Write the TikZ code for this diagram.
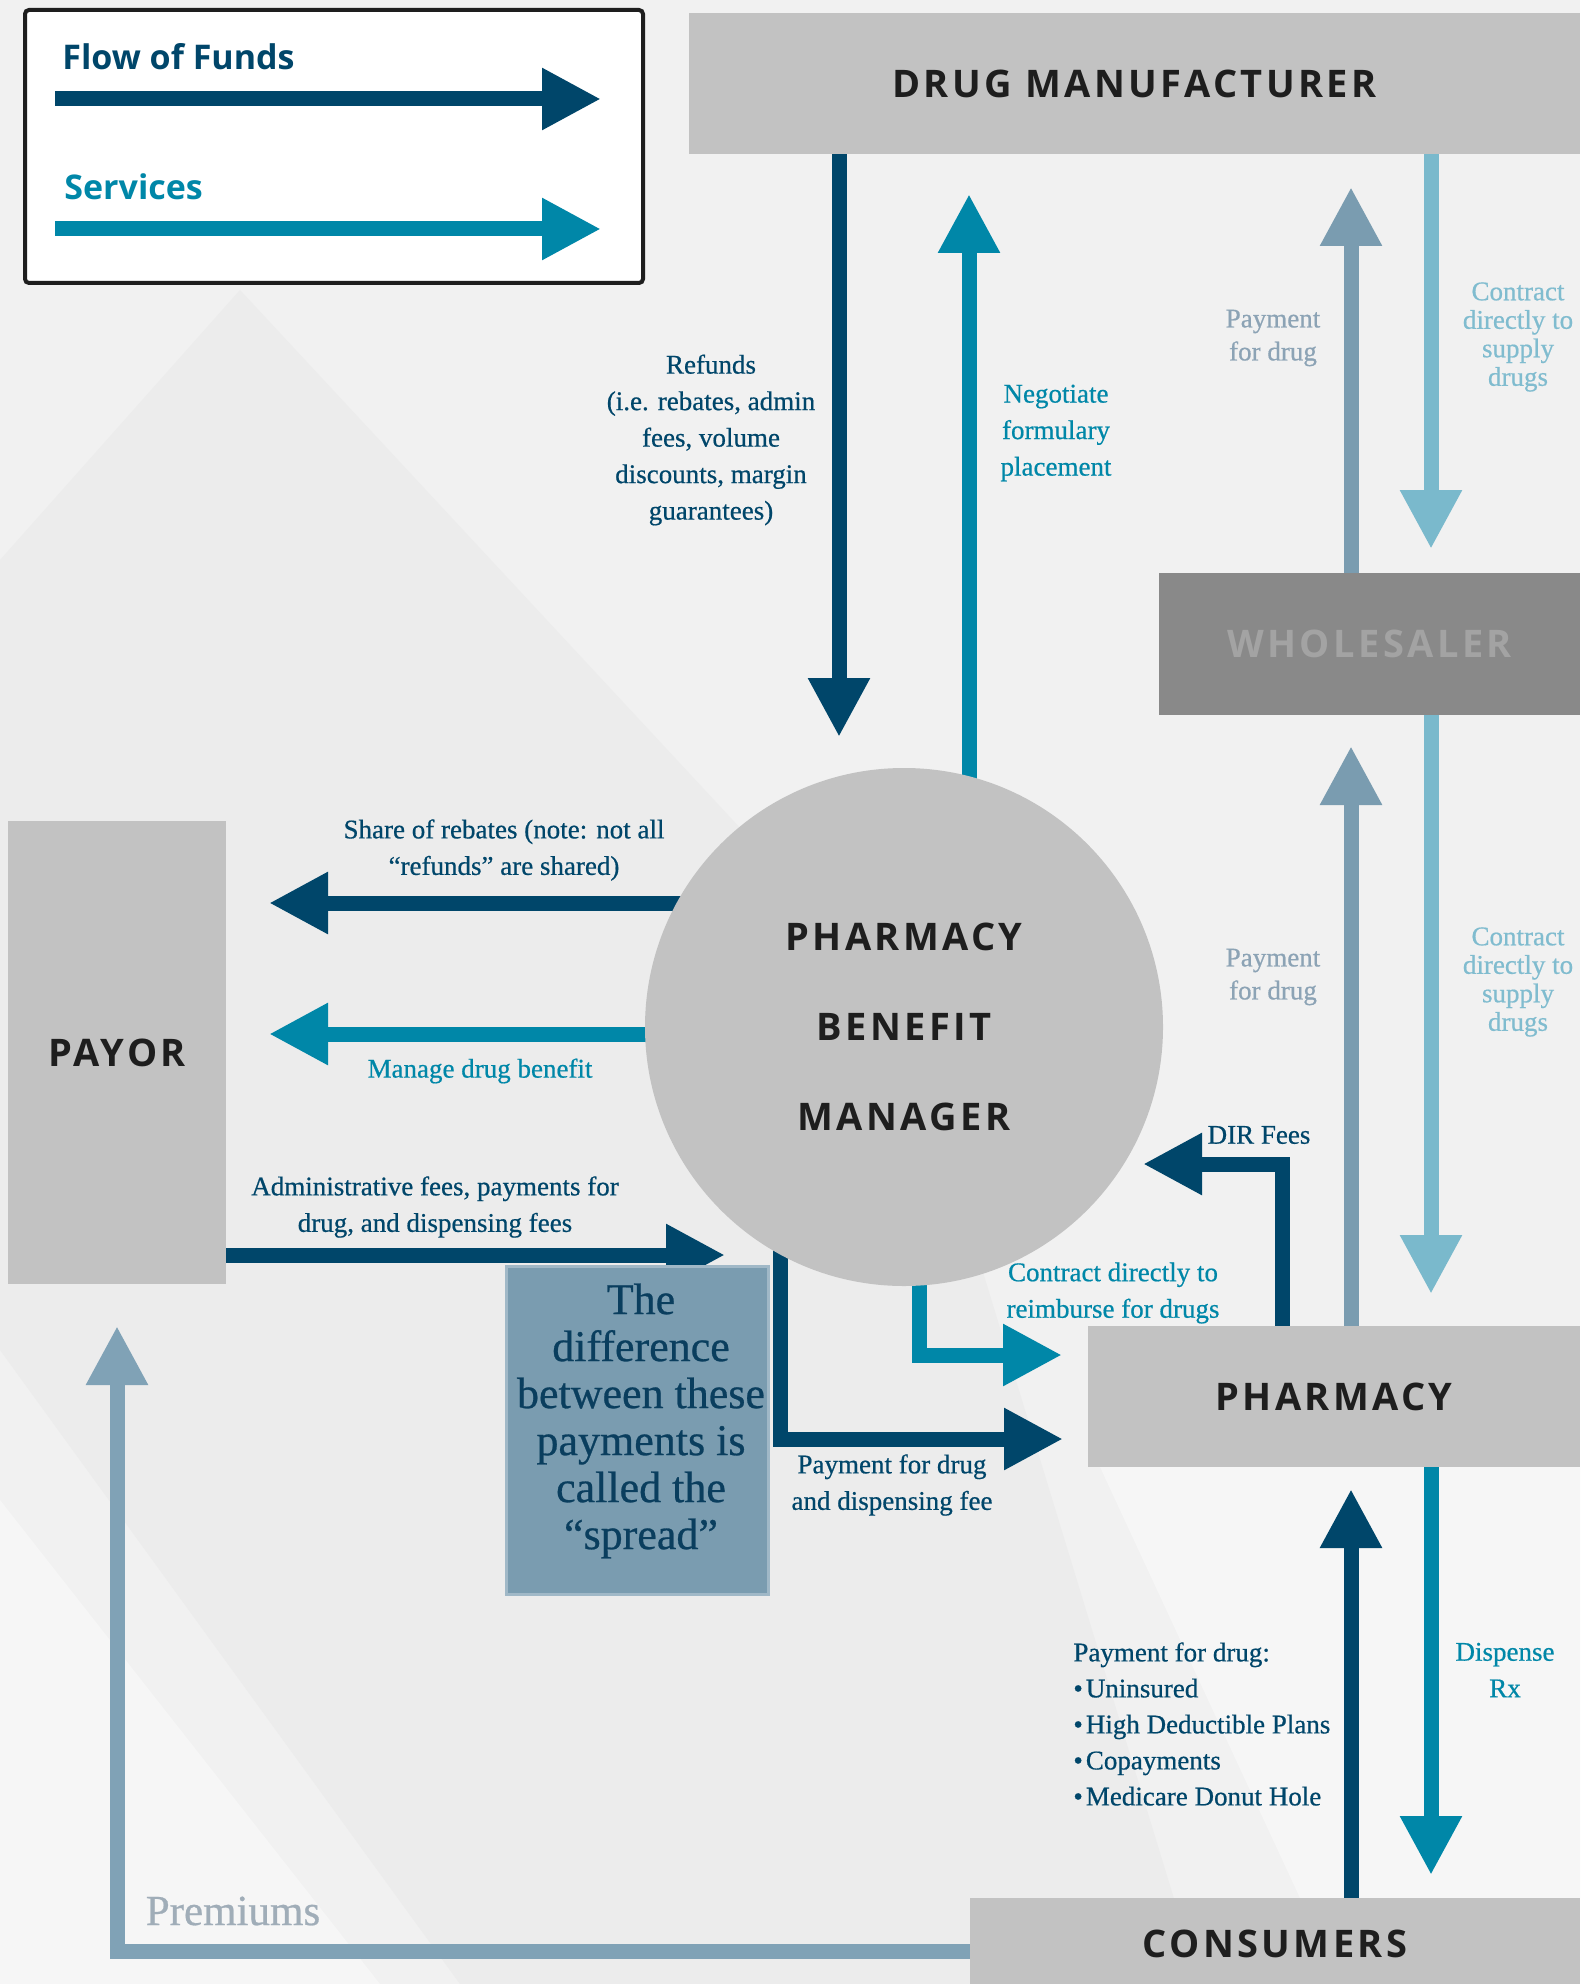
\documentclass[tikz,border=0pt]{standalone}
\usepackage{fontspec}
\setmainfont{Liberation Serif}[BoldFont={Liberation Serif}, BoldFeatures={FakeBold=0.6}]
\newfontfamily\boxfont{Open Sans}[LetterSpace=9.0]
\newfontfamily\legendfont{Open Sans}
\usetikzlibrary{arrows.meta}

\definecolor{fundblue}{RGB}{0,70,106}
\definecolor{servteal}{RGB}{0,135,168}
\definecolor{fundlight}{RGB}{122,156,176}
\definecolor{premline}{RGB}{128,162,182}
\definecolor{servlight}{RGB}{122,185,204}
\definecolor{fundtext}{RGB}{140,163,181}
\definecolor{servtext}{RGB}{128,188,207}
\definecolor{boxgray}{RGB}{194,194,194}
\definecolor{wholegray}{RGB}{137,137,137}
\definecolor{wholetext}{RGB}{163,163,163}
\definecolor{inkgray}{RGB}{30,30,30}
\definecolor{bggray}{RGB}{241,241,241}
\definecolor{bgshade}{RGB}{236,236,236}
\definecolor{bglight}{RGB}{246,246,246}
\definecolor{spreadedge}{RGB}{160,184,199}
\definecolor{spreadink}{RGB}{10,62,94}
\definecolor{premtext}{RGB}{160,173,184}

\pgfdeclarelayer{bg}
\pgfdeclarelayer{links}
\pgfsetlayers{bg,links,main}

\begin{document}
\begin{tikzpicture}[x=0.5pt, y=-0.5pt,
    flowtip/.style={-{Triangle[length=29.5pt,width=29pt]}},
    funds/.style={flowtip, line width=7.5pt, draw=fundblue},
    services/.style={flowtip, line width=7.5pt, draw=servteal},
    fundsfaint/.style={flowtip, line width=7.5pt, draw=fundlight},
    servfaint/.style={flowtip, line width=7.5pt, draw=servlight},
    party/.style={fill=boxgray, inner sep=0pt, text=inkgray, align=center,
        font=\boxfont\bfseries\fontsize{19}{23}\selectfont},
    note/.style={inner sep=0pt, align=center, text=fundblue,
        font=\bfseries\fontsize{13.5}{18.25}\selectfont},
    servnote/.style={note, text=servteal}]

    % background
    \begin{pgfonlayer}{bg}
        \fill[bggray] (0,0) rectangle (1580,1984);
        \fill[bgshade] (240,290) -- (900,1000) -- (1200,1984) -- (460,1984) -- (0,1350) -- (0,560) -- cycle;
        \fill[bglight] (0,1500) -- (380,1984) -- (0,1984) -- cycle;
        \fill[bglight] (1100,1467) -- (1580,1467) -- (1580,1898) -- (1300,1898) -- cycle;
    \end{pgfonlayer}
    \useasboundingbox (0,0) rectangle (1580,1984);

    % legend
    \node[draw=inkgray, line width=2pt, rounded corners=2pt, fill=white, minimum width=309pt, minimum height=136.5pt] (LEGEND) at (334,146.5) {};
    \node[anchor=west, inner sep=0pt, text=fundblue, font=\legendfont\bfseries\fontsize{17}{20}\selectfont] (legFunds) at (62,57) {Flow of Funds};
    \node[anchor=west, inner sep=0pt, text=servteal, font=\legendfont\bfseries\fontsize{17}{20}\selectfont] (legServ) at (64,187) {Services};
    \coordinate (legFundsA) at (55,99);
    \coordinate (legFundsB) at (601,99);
    \coordinate (legServA) at (55,229);
    \coordinate (legServB) at (601,229);
    \draw (legFundsA)[funds] -- (legFundsB);
    \draw (legServA)[services] -- (legServB);

    % parties
    \node[party, minimum width=445.5pt, minimum height=70.5pt] (DM) at (1134.5,83.5) {DRUG MANUFACTURER};
    \node[party, fill=wholegray, text=wholetext, minimum width=210.5pt, minimum height=71pt] (WHOLE) at (1369.5,644) {WHOLESALER};
    \node[party, circle, minimum size=259pt, font=\boxfont\bfseries\fontsize{19}{45}\selectfont] (PBM) at (904,1027) {PHARMACY\\BENEFIT\\MANAGER};
    \node[party, minimum width=109pt, minimum height=231.5pt] (PAYOR) at (117,1052.5) {PAYOR};
    \node[party, minimum width=246pt, minimum height=70.5pt] (PHARM) at (1334,1396.5) {PHARMACY};
    \node[party, minimum width=305pt, minimum height=46pt] (CONS) at (1275,1944) {CONSUMERS};
    \node[fill=fundlight, draw=spreadedge, line width=1.5pt, minimum width=131pt, minimum height=164pt] (SPREAD) at (637.5,1430.5) {};
    \node[note, text=spreadink, font=\bfseries\fontsize{22}{23.5}\selectfont] (spreadText) at (641,1421) {The\\difference\\between these\\payments is\\called the\\“spread”};

    % arrow ends
    \coordinate (refundsTip) at (839,737);
    \coordinate (negotiateTip) at (969,194);
    \coordinate (upPayTip) at (1351,187);
    \coordinate (upSupplyTip) at (1431,549);
    \coordinate (lowPayTip) at (1351,746);
    \coordinate (lowSupplyTip) at (1431,1294);
    \coordinate (shareTip) at (269,903);
    \coordinate (manageTip) at (269,1034);
    \coordinate (adminTip) at (725,1255);
    \coordinate (dispFeeTip) at (1063,1439);
    \coordinate (reimburseTip) at (1062,1355);
    \coordinate (dirTip) at (1143,1164);
    \coordinate (consPayTip) at (1351,1489);
    \coordinate (dispenseTip) at (1431,1875);
    \coordinate (premiumTip) at (117,1326);

    % connectors
    \begin{pgfonlayer}{links}
        \draw (DM.south -| refundsTip)[funds] -- (refundsTip);
        \draw (PBM.center -| negotiateTip)[services] -- (negotiateTip);
        \draw (WHOLE.north -| upPayTip)[fundsfaint] -- (upPayTip);
        \draw (DM.south -| upSupplyTip)[servfaint] -- (upSupplyTip);
        \draw (PHARM.north -| lowPayTip)[fundsfaint] -- (lowPayTip);
        \draw (WHOLE.south -| lowSupplyTip)[servfaint] -- (lowSupplyTip);
        \draw (PBM.center |- shareTip)[funds] -- (shareTip);
        \draw (PBM.center |- manageTip)[services] -- (manageTip);
        \draw (PAYOR.east |- adminTip)[funds] -- (adminTip);
        \draw ([xshift=-62pt]PBM.center)[funds] |- (dispFeeTip);
        \draw ([xshift=7.5pt]PBM.center)[services] |- (reimburseTip);
        \draw ([xshift=-26pt]PHARM.north)[funds] |- (dirTip);
        \draw (CONS.north -| consPayTip)[funds] -- (consPayTip);
        \draw (PHARM.south -| dispenseTip)[services] -- (dispenseTip);
        \draw ([yshift=-3.5pt]CONS.west)[fundsfaint, draw=premline] -| (premiumTip);
    \end{pgfonlayer}

    % labels
    \node[note] (refundsText) at (711,440) {Refunds\\(i.e. rebates, admin\\fees, volume\\discounts, margin\\guarantees)};
    \node[servnote] (negotiateText) at (1056,433) {Negotiate\\formulary\\placement};
    \node[note, text=fundtext, font=\bfseries\fontsize{13.5}{16.5}\selectfont] (upPayText) at (1273,338) {Payment\\for drug};
    \node[note, text=servtext, font=\bfseries\fontsize{13.5}{14.25}\selectfont] (upSupplyText) at (1518,337) {Contract\\directly to\\supply\\drugs};
    \node[note, text=fundtext, font=\bfseries\fontsize{13.5}{16.5}\selectfont] (lowPayText) at (1273,977) {Payment\\for drug};
    \node[note, text=servtext, font=\bfseries\fontsize{13.5}{14.25}\selectfont] (lowSupplyText) at (1518,982) {Contract\\directly to\\supply\\drugs};
    \node[note] (shareText) at (504,850) {Share of rebates (note: not all\\“refunds” are shared)};
    \node[servnote] (manageText) at (480,1071) {Manage drug benefit};
    \node[note] (adminText) at (435,1207) {Administrative fees, payments for\\drug, and dispensing fees};
    \node[servnote] (reimburseText) at (1113,1293) {Contract directly to\\reimburse for drugs};
    \node[note] (dirText) at (1259,1135) {DIR Fees};
    \node[note] (dispFeeText) at (892,1485) {Payment for drug\\and dispensing fee};
    \node[note, anchor=west, align=left, font=\bfseries\fontsize{13.5}{18}\selectfont] (consPayText) at (1073,1724) {Payment for drug:\\•\kern1.5pt Uninsured\\•\kern1.5pt High Deductible Plans\\•\kern1.5pt Copayments\\•\kern1.5pt Medicare Donut Hole};
    \node[servnote] (dispenseText) at (1505,1670) {Dispense\\Rx};
    \node[note, text=premtext, font=\bfseries\fontsize{21.5}{24}\selectfont] (premiumText) at (233,1911) {Premiums};
\end{tikzpicture}
\end{document}
